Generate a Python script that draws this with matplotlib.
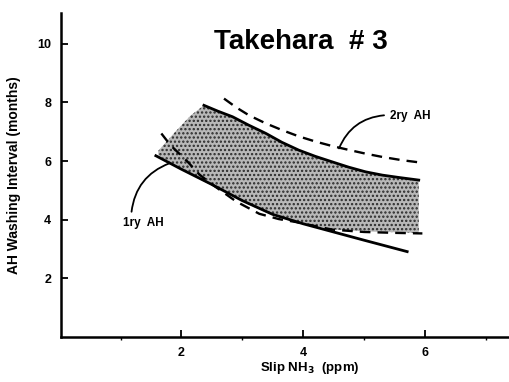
import matplotlib
matplotlib.use("Agg")
import matplotlib.pyplot as plt
from matplotlib.ticker import MultipleLocator

plt.rcParams['font.family'] = ['Liberation Sans', 'DejaVu Sans']
plt.rcParams['font.weight'] = 'bold'
plt.rcParams['hatch.linewidth'] = 1.1

# upper solid boundary of the band
upper_x = [2.37, 2.6, 2.84, 3.1, 3.39, 3.65, 3.93, 4.2, 4.48, 4.75, 5.03, 5.3, 5.57, 5.9]
upper_y = [7.9, 7.7, 7.51, 7.23, 6.94, 6.64, 6.37, 6.16, 5.97, 5.79, 5.63, 5.52, 5.44, 5.35]

# secondary AH (dashed, upper)
ry2_x = [2.7, 2.9, 3.11, 3.38, 3.66, 3.93, 4.21, 4.48, 4.75, 5.03, 5.3, 5.62, 5.96]
ry2_y = [8.13, 7.83, 7.56, 7.29, 7.05, 6.84, 6.66, 6.51, 6.38, 6.25, 6.14, 6.03, 5.94]

# lower solid boundary
lower_x = [1.58, 2.0, 2.5, 3.0, 3.5, 4.0, 4.5, 5.0, 5.71]
lower_y = [6.18, 5.72, 5.2, 4.65, 4.18, 3.86, 3.58, 3.3, 2.91]

# primary AH (dashed, lower)
ry1_x = [1.67, 1.82, 2.1, 2.3, 2.54, 2.9, 3.28, 3.6, 3.88, 4.2, 4.48, 5.0, 5.5, 5.96]
ry1_y = [6.94, 6.54, 5.98, 5.53, 5.15, 4.62, 4.2, 4.02, 3.92, 3.78, 3.66, 3.58, 3.55, 3.53]

# stippled band
band_x = [1.62, 1.9, 2.15, 2.37, 2.6, 2.84, 3.1, 3.39, 3.65, 3.93, 4.2, 4.48, 4.75, 5.03, 5.3, 5.57, 5.9]
band_top = [6.35, 7.0, 7.55, 7.9, 7.7, 7.51, 7.23, 6.94, 6.64, 6.37, 6.16, 5.97, 5.79, 5.63, 5.52, 5.44, 5.35]
band_bottom = [6.2, 5.85, 5.55, 5.3, 5.08, 4.8, 4.52, 4.25, 4.05, 3.9, 3.78, 3.67, 3.63, 3.6, 3.58, 3.57, 3.55]

x_ticks = [2, 4, 6]
y_ticks = [2, 4, 6, 8, 10]

fig = plt.figure(figsize=(5.1, 3.82), dpi=100)
ax = fig.add_axes([0.1195, 0.118, 0.8805, 0.848])

ax.fill_between(band_x, band_bottom, band_top, facecolor='#b8b8b8',
                edgecolor='#2a2a2a', hatch='....', linewidth=0, zorder=1)

ax.plot(upper_x, upper_y, color='black', lw=2.0, zorder=3)
ax.plot(lower_x, lower_y, color='black', lw=2.0, zorder=3)
ax.plot(ry2_x, ry2_y, color='black', lw=1.7, linestyle=(0, (4.5, 3)), zorder=3)
ax.plot(ry1_x, ry1_y, color='black', lw=1.7, linestyle=(0, (4.5, 3)), zorder=3)

ax.annotate('', xy=(4.59, 6.43), xytext=(5.33, 7.56),
            arrowprops=dict(arrowstyle='-', lw=1.3, shrinkA=0, shrinkB=0,
                            connectionstyle='arc3,rad=0.3'))
ax.text(5.42, 7.52, '2ry  AH', fontsize=8.5, fontweight='bold', va='center', ha='left')

ax.annotate('', xy=(1.8, 5.92), xytext=(1.18, 4.27),
            arrowprops=dict(arrowstyle='-', lw=1.3, shrinkA=0, shrinkB=0,
                            connectionstyle='arc3,rad=-0.3'))
ax.text(1.04, 3.9, '1ry  AH', fontsize=8.5, fontweight='bold', va='center', ha='left')

ax.text(3.97, 10.05, 'Takehara  # 3', fontsize=20, fontweight='bold',
        ha='center', va='center')

ax.set_xlim(0.02, 7.4)
ax.set_ylim(0, 11.05)
ax.set_xticks(x_ticks)
ax.set_yticks(y_ticks)
ax.xaxis.set_minor_locator(MultipleLocator(1))
ax.tick_params(axis='both', direction='in', width=1.3, labelsize=9, pad=7)
ax.tick_params(axis='x', which='major', length=5)
ax.tick_params(axis='x', which='minor', length=2, width=1)
ax.tick_params(axis='y', length=5)
for lab in ax.get_xticklabels() + ax.get_yticklabels():
    lab.set_fontweight('bold')

for side in ('top', 'right'):
    ax.spines[side].set_visible(False)
for side in ('left', 'bottom'):
    ax.spines[side].set_linewidth(1.8)

ax.set_ylabel('AH Washing Interval (months)', fontsize=10, fontweight='bold', labelpad=12)
ax.set_xlabel('Slip NH$_3$  (ppm)', fontsize=9.5, fontweight='bold')
ax.xaxis.set_label_coords(0.554, -0.072)

fig.savefig('out.png', dpi=100)
